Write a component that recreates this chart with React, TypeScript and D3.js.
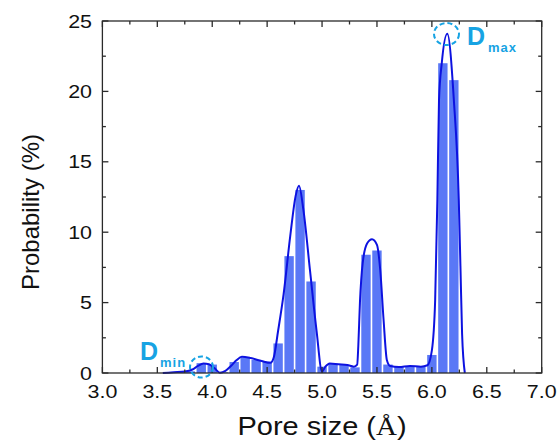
import React, { useEffect, useRef } from 'react';
import * as d3 from 'd3';

// histogram bins (pore size centres, Å) and probability (%)
const binCenters = [3.6, 3.7, 3.8, 3.9, 4.0, 4.1, 4.2, 4.3, 4.4, 4.5, 4.6, 4.7, 4.8, 4.9, 5.0, 5.1, 5.2, 5.3, 5.4, 5.5, 5.6, 5.7, 5.8, 5.9, 6.0, 6.1, 6.2];
const binValues = [0.05, 0.08, 0.12, 0.7, 0.6, 0.05, 0.78, 1.1, 0.93, 0.8, 2.1, 8.3, 13.0, 6.5, 0.45, 0.7, 0.57, 0.4, 8.4, 8.7, 0.6, 0.45, 0.45, 0.45, 1.28, 22.0, 20.8];

// smoothed distribution curve
const curveX = [3.55, 3.65, 3.75, 3.82, 3.87, 3.92, 3.97, 4.02, 4.07, 4.12, 4.17, 4.22, 4.27, 4.35, 4.45, 4.53, 4.56, 4.6, 4.65, 4.71, 4.76, 4.79, 4.83, 4.89, 4.95, 5.0, 5.03, 5.07, 5.15, 5.23, 5.29, 5.32, 5.33, 5.345, 5.37, 5.41, 5.455, 5.5, 5.53, 5.56, 5.59, 5.62, 5.7, 5.8, 5.9, 5.96, 6.0, 6.03, 6.05, 6.065, 6.09, 6.14, 6.2, 6.245, 6.26, 6.275, 6.3];
const curveY = [0, 0.05, 0.1, 0.25, 0.5, 0.68, 0.62, 0.35, 0.02, 0.15, 0.5, 0.9, 1.15, 1.06, 0.85, 0.72, 1.1, 3.0, 5.6, 9.7, 12.6, 13.3, 11.6, 7.3, 3.0, 0.1, 0.45, 0.68, 0.62, 0.57, 0.45, 0.6, 1.9, 5.0, 7.8, 9.2, 9.5, 9.1, 7.3, 3.8, 0.93, 0.5, 0.42, 0.5, 0.45, 0.55, 1.6, 5.2, 12.3, 19.4, 22.0, 24.1, 19.4, 12.3, 7.6, 2.8, 0];

const xTicks = [3.0, 3.5, 4.0, 4.5, 5.0, 5.5, 6.0, 6.5, 7.0];
const yTicks = [0, 5, 10, 15, 20, 25];

const App = () => {
    const svgRef = useRef(null);

    useEffect(() => {
        const width = 560;
        const height = 448;
        const left = 102.4, right = 541.7, top = 21, bottom = 373;
        const stretch = 1.16;

        const svg = d3.select(svgRef.current);
        svg.selectAll("*").remove();
        svg.attr("width", width).attr("height", height);

        const x = d3.scaleLinear().domain([3, 7]).range([left, right]);
        const y = d3.scaleLinear().domain([0, 25]).range([bottom, top]);

        // bars
        const bw = x(3.1) - x(3.0);
        svg.append("g")
            .selectAll("rect")
            .data(binCenters.map((c, i) => ({ c, v: binValues[i] })))
            .enter()
            .append("rect")
            .attr("x", d => x(d.c) - bw / 2 + 0.8)
            .attr("width", bw - 1.6)
            .attr("y", d => y(d.v))
            .attr("height", d => y(0) - y(d.v))
            .attr("fill", "#5a78f6");

        // curve
        const line = d3.line<number>()
            .x((d, i) => x(curveX[i]))
            .y(d => y(d))
            .curve(d3.curveMonotoneX);
        svg.append("path")
            .attr("d", line(curveY))
            .attr("fill", "none")
            .attr("stroke", "#0d12e0")
            .attr("stroke-width", 2);

        // frame
        svg.append("rect")
            .attr("x", left).attr("y", top)
            .attr("width", right - left).attr("height", bottom - top)
            .attr("fill", "none").attr("stroke", "#2a2a2a").attr("stroke-width", 1.3);

        const ticks = svg.append("g").attr("stroke", "#2a2a2a").attr("stroke-width", 1.3);
        const xMinor = d3.range(3.25, 7, 0.5);
        const yMinor = d3.range(2.5, 25, 5);
        xTicks.forEach(t => {
            ticks.append("line").attr("x1", x(t)).attr("x2", x(t)).attr("y1", bottom).attr("y2", bottom - 6);
            ticks.append("line").attr("x1", x(t)).attr("x2", x(t)).attr("y1", top).attr("y2", top + 6);
        });
        xMinor.forEach(t => {
            ticks.append("line").attr("x1", x(t)).attr("x2", x(t)).attr("y1", bottom).attr("y2", bottom - 3.5);
            ticks.append("line").attr("x1", x(t)).attr("x2", x(t)).attr("y1", top).attr("y2", top + 3.5);
        });
        yTicks.forEach(t => {
            ticks.append("line").attr("x1", left).attr("x2", left + 6).attr("y1", y(t)).attr("y2", y(t));
            ticks.append("line").attr("x1", right).attr("x2", right - 6).attr("y1", y(t)).attr("y2", y(t));
        });
        yMinor.forEach(t => {
            ticks.append("line").attr("x1", left).attr("x2", left + 3.5).attr("y1", y(t)).attr("y2", y(t));
            ticks.append("line").attr("x1", right).attr("x2", right - 3.5).attr("y1", y(t)).attr("y2", y(t));
        });

        const font = "Liberation Sans, Arial, sans-serif";

        // x tick labels
        xTicks.forEach(t => {
            svg.append("text")
                .attr("transform", `translate(${x(t)},398) scale(${stretch},1)`)
                .attr("text-anchor", "middle")
                .style("font-family", font)
                .style("font-size", "18.5px")
                .attr("fill", "#111")
                .text(t.toFixed(1));
        });

        // y tick labels
        yTicks.forEach(t => {
            svg.append("text")
                .attr("transform", `translate(92,${y(t) + 6.5}) scale(${stretch},1)`)
                .attr("text-anchor", "end")
                .style("font-family", font)
                .style("font-size", "18.5px")
                .attr("fill", "#111")
                .text(t);
        });

        // axis titles
        const xt = svg.append("text")
            .attr("transform", `translate(${(left + right) / 2},435) scale(${stretch},1)`)
            .attr("text-anchor", "middle")
            .style("font-family", font)
            .style("font-size", "25px")
            .attr("fill", "#111");
        xt.append("tspan").text("Pore size (");
        xt.append("tspan").style("font-family", "Liberation Serif, Times New Roman, serif").text("Å");
        xt.append("tspan").text(")");

        svg.append("text")
            .attr("transform", `translate(39,212) rotate(-90)`)
            .attr("text-anchor", "middle")
            .style("font-family", font)
            .style("font-size", "24px")
            .attr("fill", "#111")
            .text("Probability (%)");

        // annotations
        const cyan = "#17a3e3";
        svg.append("ellipse")
            .attr("cx", 446.5).attr("cy", 34).attr("rx", 12.5).attr("ry", 11)
            .attr("fill", "none").attr("stroke", cyan).attr("stroke-width", 2)
            .attr("stroke-dasharray", "5,3");
        svg.append("ellipse")
            .attr("cx", 201.5).attr("cy", 367).attr("rx", 11.5).attr("ry", 10.5)
            .attr("fill", "none").attr("stroke", cyan).attr("stroke-width", 2)
            .attr("stroke-dasharray", "5,3");

        const dmax = svg.append("text")
            .attr("x", 467).attr("y", 45)
            .style("font-family", font)
            .style("font-weight", "bold")
            .attr("fill", cyan);
        dmax.append("tspan").style("font-size", "25px").text("D");
        dmax.append("tspan").attr("dx", 3).attr("dy", 7).style("font-size", "13px").style("letter-spacing", "1px").text("max");

        const dmin = svg.append("text")
            .attr("x", 140).attr("y", 360)
            .style("font-family", font)
            .style("font-weight", "bold")
            .attr("fill", cyan);
        dmin.append("tspan").style("font-size", "25px").text("D");
        dmin.append("tspan").attr("dx", 2).attr("dy", 7).style("font-size", "13px").style("letter-spacing", "1px").text("min");
    }, []);

    return (
        <div style={{ position: "absolute", left: 0, top: 0 }}>
            <svg ref={svgRef}></svg>
        </div>
    );
};

export default App;
